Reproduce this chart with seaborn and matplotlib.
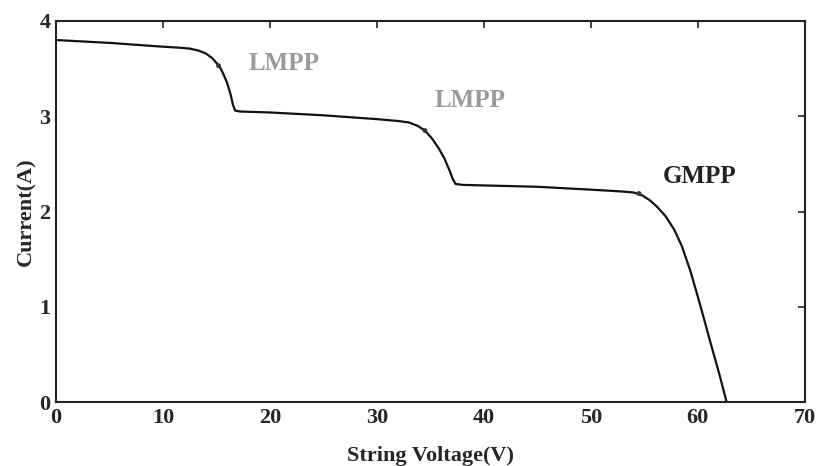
import matplotlib
matplotlib.use("Agg")
import matplotlib.pyplot as plt
import seaborn as sns
import pandas as pd

# I-V curve
voltage = [0, 5, 10, 11.5, 12.5, 13.3, 14.0, 14.6, 15.0, 15.4, 15.7, 16.0, 16.3,
           16.55, 16.75, 17.2, 20, 25, 30, 32, 33.0, 33.8, 34.5, 35.2, 35.8, 36.3,
           36.8, 37.1, 37.35, 38, 45, 50, 53, 54.0, 54.8, 55.5, 56.2, 57.0, 57.8,
           58.5, 59.3, 60.2, 61.2, 62.0, 62.7]
current = [3.80, 3.77, 3.73, 3.72, 3.71, 3.69, 3.66, 3.61, 3.56, 3.50, 3.43, 3.35,
           3.24, 3.12, 3.06, 3.05, 3.04, 3.01, 2.97, 2.95, 2.935, 2.90, 2.85, 2.76,
           2.66, 2.56, 2.43, 2.34, 2.29, 2.28, 2.26, 2.23, 2.21, 2.20, 2.17, 2.12,
           2.05, 1.95, 1.81, 1.64, 1.38, 1.03, 0.62, 0.30, 0.0]

# maximum power points and their labels
mpp_v = [15.2, 34.5, 54.5]
mpp_i = [3.53, 2.85, 2.19]
mpp_text = ['LMPP', 'LMPP', 'GMPP']
text_v = [18.0, 35.4, 56.7]
text_i = [3.43, 3.04, 2.25]
text_col = ['#9a9a9a', '#9a9a9a', '#222222']

sns.set_style('white')
plt.rcParams['font.family'] = ['Liberation Serif', 'DejaVu Serif']
plt.rcParams['font.weight'] = 'bold'

df = pd.DataFrame({'V': voltage, 'I': current})

fig = plt.figure(figsize=(8.17, 4.66), dpi=100)
ax = fig.add_axes([0.0685, 0.137, 0.9165, 0.818])

sns.lineplot(data=df, x='V', y='I', sort=False, color='#111111', linewidth=1.6, ax=ax)
sns.scatterplot(x=mpp_v, y=mpp_i, color='#333333', s=12, edgecolor='none', ax=ax, zorder=3)

for t, x, y, c in zip(mpp_text, text_v, text_i, text_col):
    ax.text(x, y, t, color=c, fontsize=18, fontweight='bold', ha='left', va='bottom')

ax.set_xlim(0, 70)
ax.set_ylim(0, 4)
ax.set_xticks(range(0, 71, 10))
ax.set_yticks(range(0, 5))
ax.tick_params(direction='in', top=True, right=True, length=5, width=1.2,
               labelsize=16, pad=4)
for lab in ax.get_xticklabels() + ax.get_yticklabels():
    lab.set_fontweight('bold')
for s in ax.spines.values():
    s.set_linewidth(1.5)
    s.set_color('#222222')

ax.set_xlabel('String Voltage(V)', fontsize=16, fontweight='bold', labelpad=13)
ax.set_ylabel('Current(A)', fontsize=16, fontweight='bold', labelpad=2)

fig.savefig('out.png', dpi=100)
